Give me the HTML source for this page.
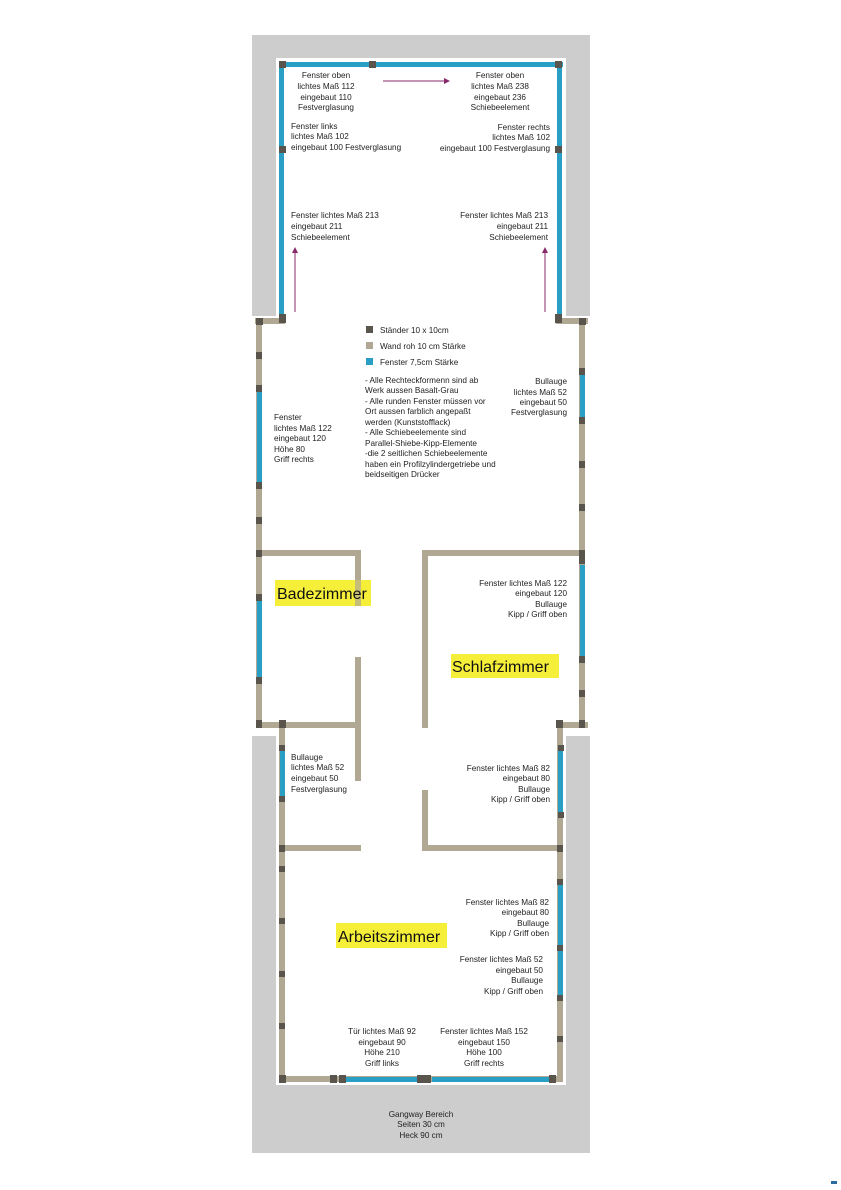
<!DOCTYPE html>
<html><head><meta charset="utf-8"><style>
body{margin:0;background:#fff;}
svg{display:block}
text{font-family:"Liberation Sans",sans-serif;font-size:8.2px;fill:#222}
.r{text-anchor:end}.m{text-anchor:middle}
.big{font-size:16px;fill:#111}
</style></head><body>
<svg width="841" height="1190" viewBox="0 0 841 1190" xmlns="http://www.w3.org/2000/svg">
<rect x="0" y="0" width="841" height="1190" fill="#fff"/>
<rect x="252" y="35" width="338" height="1118" fill="#cdcdcd"/>
<rect x="276" y="58" width="290" height="260" fill="#fff"/>
<rect x="252" y="316" width="338" height="420" fill="#fff"/>
<rect x="276" y="734" width="290" height="351" fill="#fff"/>
<g fill="#2a9fc5">
<rect x="279" y="62" width="284" height="5"/>
<rect x="279" y="62" width="5" height="258"/>
<rect x="557" y="62" width="5" height="258"/>
</g>
<g fill="#b0a893">
<rect x="255" y="318" width="30" height="6"/>
<rect x="556" y="318" width="32" height="6"/>
<rect x="256" y="318" width="6" height="410"/>
<rect x="579" y="318" width="6" height="410"/>
<rect x="256" y="550" width="105" height="6"/>
<rect x="355" y="550" width="6" height="56"/>
<rect x="355" y="657" width="6" height="124"/>
<rect x="256" y="722" width="105" height="6"/>
<rect x="422" y="550" width="163" height="6"/>
<rect x="422" y="550" width="6" height="178"/>
<rect x="422" y="790" width="6" height="60"/>
<rect x="556" y="722" width="32" height="6"/>
<rect x="279" y="722" width="6" height="360"/>
<rect x="557" y="722" width="6" height="360"/>
<rect x="422" y="845" width="140" height="6"/>
<rect x="279" y="845" width="82" height="6"/>
<rect x="279" y="1076" width="284" height="6"/>
</g>
<g fill="#2a9fc5">
<rect x="257" y="392" width="5" height="90"/>
<rect x="257" y="600" width="5" height="78"/>
<rect x="580" y="375" width="5" height="42"/>
<rect x="580" y="565" width="5" height="91"/>
<rect x="280" y="750" width="5" height="50"/>
<rect x="558" y="750" width="5" height="62"/>
<rect x="558" y="885" width="5" height="60"/>
<rect x="558" y="950" width="5" height="46"/>
<rect x="345" y="1077" width="80" height="5"/>
<rect x="432" y="1077" width="117" height="5"/>
</g>
<g fill="#5a554c">
<rect x="279" y="61" width="7" height="7"/><rect x="369" y="61" width="7" height="7"/><rect x="555" y="61" width="7" height="7"/>
<rect x="279" y="146" width="7" height="7"/><rect x="555" y="146" width="7" height="7"/>
<rect x="279" y="314" width="7" height="9"/><rect x="555" y="314" width="7" height="9"/>
<rect x="256" y="318" width="7" height="7"/><rect x="579" y="318" width="7" height="7"/>
<rect x="256" y="352" width="6" height="7"/><rect x="256" y="385" width="6" height="7"/><rect x="256" y="482" width="6" height="7"/><rect x="256" y="517" width="6" height="7"/>
<rect x="256" y="550" width="6" height="7"/><rect x="256" y="594" width="6" height="7"/><rect x="256" y="677" width="6" height="7"/><rect x="256" y="720" width="6" height="8"/>
<rect x="579" y="368" width="6" height="7"/><rect x="579" y="417" width="6" height="7"/><rect x="579" y="461" width="6" height="7"/><rect x="579" y="504" width="6" height="7"/>
<rect x="579" y="550" width="6" height="14"/><rect x="579" y="656" width="6" height="7"/><rect x="579" y="690" width="6" height="7"/><rect x="579" y="720" width="6" height="8"/>
<rect x="279" y="720" width="7" height="8"/><rect x="556" y="720" width="7" height="8"/>
<rect x="279" y="745" width="6" height="6"/><rect x="279" y="796" width="6" height="6"/>
<rect x="558" y="745" width="6" height="6"/><rect x="558" y="812" width="6" height="6"/>
<rect x="279" y="845" width="6" height="7"/><rect x="557" y="845" width="6" height="7"/>
<rect x="279" y="866" width="6" height="6"/><rect x="279" y="918" width="6" height="6"/><rect x="279" y="971" width="6" height="6"/><rect x="279" y="1023" width="6" height="6"/>
<rect x="557" y="879" width="6" height="6"/><rect x="557" y="945" width="6" height="6"/><rect x="557" y="995" width="6" height="6"/><rect x="557" y="1036" width="6" height="6"/>
<rect x="279" y="1075" width="7" height="8"/><rect x="330" y="1075" width="7" height="8"/><rect x="339" y="1075" width="7" height="8"/><rect x="417" y="1075" width="14" height="8"/><rect x="549" y="1075" width="7" height="8"/>
</g>
<g stroke="#8a2a6a" stroke-width="1" fill="#8a2a6a">
<line x1="383" y1="81" x2="446" y2="81"/><polygon points="450,81 444,78 444,84" stroke="none"/>
<line x1="295" y1="312" x2="295" y2="251"/><polygon points="295,247 292,253 298,253" stroke="none"/>
<line x1="545" y1="312" x2="545" y2="251"/><polygon points="545,247 542,253 548,253" stroke="none"/>
</g>
<rect x="275" y="580" width="96" height="26" fill="#f5ef3a"/>
<rect x="451" y="654" width="108" height="24" fill="#f5ef3a"/>
<rect x="336" y="923" width="111" height="25" fill="#f5ef3a"/>
<rect x="355" y="580" width="6" height="26" fill="#b0a893" opacity="0.7"/>
<text x="277" y="599" class="big">Badezimmer</text>
<text x="452" y="672" class="big">Schlafzimmer</text>
<text x="338" y="942" class="big">Arbeitszimmer</text>
<rect x="366" y="326" width="7" height="7" fill="#5a554c"/>
<rect x="366" y="342" width="7" height="7" fill="#b0a893"/>
<rect x="366" y="358" width="7" height="7" fill="#2a9fc5"/>
<text x="380" y="333">Ständer 10 x 10cm</text>
<text x="380" y="349">Wand roh 10 cm Stärke</text>
<text x="380" y="365">Fenster 7,5cm Stärke</text>
<text x="365" y="383">- Alle Rechteckformenn sind ab</text>
<text x="365" y="393">Werk aussen Basalt-Grau</text>
<text x="365" y="404">- Alle runden Fenster müssen vor</text>
<text x="365" y="414">Ort aussen farblich angepaßt</text>
<text x="365" y="425">werden (Kunststofflack)</text>
<text x="365" y="435">- Alle Schiebeelemente sind</text>
<text x="365" y="446">Parallel-Shiebe-Kipp-Elemente</text>
<text x="365" y="456">-die 2 seitlichen Schiebeelemente</text>
<text x="365" y="467">haben ein Profilzylindergetriebe und</text>
<text x="365" y="477">beidseitigen Drücker</text>
<text x="326" y="78" class="m">Fenster oben</text><text x="326" y="89" class="m">lichtes Maß 112</text><text x="326" y="100" class="m">eingebaut 110</text><text x="326" y="110" class="m">Festverglasung</text>
<text x="500" y="78" class="m">Fenster oben</text><text x="500" y="89" class="m">lichtes Maß 238</text><text x="500" y="100" class="m">eingebaut 236</text><text x="500" y="110" class="m">Schiebeelement</text>
<text x="291" y="129">Fenster links</text><text x="291" y="139">lichtes Maß 102</text><text x="291" y="150">eingebaut 100 Festverglasung</text>
<text x="550" y="130" class="r">Fenster rechts</text><text x="550" y="140" class="r">lichtes Maß 102</text><text x="550" y="151" class="r">eingebaut 100 Festverglasung</text>
<text x="291" y="218">Fenster lichtes Maß 213</text><text x="291" y="229">eingebaut 211</text><text x="291" y="240">Schiebeelement</text>
<text x="548" y="218" class="r">Fenster lichtes Maß 213</text><text x="548" y="229" class="r">eingebaut 211</text><text x="548" y="240" class="r">Schiebeelement</text>
<text x="274" y="420">Fenster</text><text x="274" y="431">lichtes Maß 122</text><text x="274" y="441">eingebaut 120</text><text x="274" y="452">Höhe 80</text><text x="274" y="462">Griff rechts</text>
<text x="567" y="384" class="r">Bullauge</text><text x="567" y="395" class="r">lichtes Maß 52</text><text x="567" y="405" class="r">eingebaut 50</text><text x="567" y="415" class="r">Festverglasung</text>
<text x="567" y="586" class="r">Fenster lichtes Maß 122</text><text x="567" y="596" class="r">eingebaut 120</text><text x="567" y="607" class="r">Bullauge</text><text x="567" y="617" class="r">Kipp / Griff oben</text>
<text x="291" y="760">Bullauge</text><text x="291" y="770">lichtes Maß 52</text><text x="291" y="781">eingebaut 50</text><text x="291" y="792">Festverglasung</text>
<text x="550" y="771" class="r">Fenster lichtes Maß 82</text><text x="550" y="781" class="r">eingebaut 80</text><text x="550" y="792" class="r">Bullauge</text><text x="550" y="802" class="r">Kipp / Griff oben</text>
<text x="549" y="905" class="r">Fenster lichtes Maß 82</text><text x="549" y="915" class="r">eingebaut 80</text><text x="549" y="926" class="r">Bullauge</text><text x="549" y="936" class="r">Kipp / Griff oben</text>
<text x="543" y="962" class="r">Fenster lichtes Maß 52</text><text x="543" y="973" class="r">eingebaut 50</text><text x="543" y="983" class="r">Bullauge</text><text x="543" y="994" class="r">Kipp / Griff oben</text>
<text x="382" y="1034" class="m">Tür lichtes Maß 92</text><text x="382" y="1045" class="m">eingebaut 90</text><text x="382" y="1055" class="m">Höhe 210</text><text x="382" y="1066" class="m">Griff links</text>
<text x="484" y="1034" class="m">Fenster lichtes Maß 152</text><text x="484" y="1045" class="m">eingebaut 150</text><text x="484" y="1055" class="m">Höhe 100</text><text x="484" y="1066" class="m">Griff rechts</text>
<text x="421" y="1117" class="m">Gangway Bereich</text><text x="421" y="1127" class="m">Seiten 30 cm</text><text x="421" y="1138" class="m">Heck 90 cm</text>
<rect x="831" y="1181" width="6" height="3" fill="#2a6a9f"/>
</svg>
</body></html>
